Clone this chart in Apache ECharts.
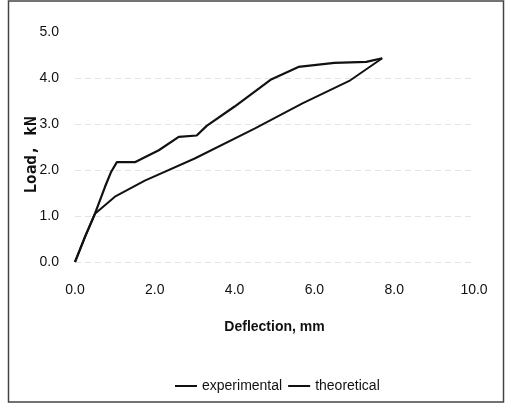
<!DOCTYPE html>
<html>
<head>
<meta charset="utf-8">
<script src="https://cdn.jsdelivr.net/npm/echarts@6/dist/echarts.min.js"></script>
<style>
  html, body { margin: 0; padding: 0; background: #fff; }
  #chart { width: 506px; height: 413px; }
</style>
</head>
<body>
<div id="chart"></div>
<script>
// Load–deflection measurements (deflection in mm, load in kN)
const experimentalDeflection = [0, 0.25, 0.5, 0.75, 0.9, 1.05, 1.5, 2.1, 2.6, 3.05, 3.3, 4.0, 4.9, 5.6, 6.5, 7.3, 7.7];
const experimentalLoad       = [0, 0.54, 1.05, 1.63, 1.95, 2.17, 2.17, 2.43, 2.72, 2.75, 2.96, 3.38, 3.96, 4.24, 4.33, 4.35, 4.43];

// Predicted response
const theoreticalDeflection = [0, 0.25, 0.5, 1.0, 1.75, 3.0, 4.5, 5.7, 6.9, 7.7];
const theoreticalLoad       = [0, 0.55, 1.05, 1.42, 1.77, 2.25, 2.9, 3.45, 3.95, 4.43];

const seriesNames = ['experimental', 'theoretical'];
const xAxisTitle = 'Deflection, mm';
const yAxisTitle = 'Load, kN';

const pairs = (xs, ys) => xs.map((x, i) => [x, ys[i]]);

const narrow = "'Liberation Sans Narrow', 'Liberation Sans', Arial, sans-serif";

const chart = echarts.init(document.getElementById('chart'), null, { renderer: 'canvas' });

chart.setOption({
  animation: false,
  backgroundColor: '#fff',
  grid: { left: 75, right: 32, top: 32, bottom: 151, containLabel: false },
  xAxis: {
    type: 'value',
    min: 0, max: 10, interval: 2,
    name: xAxisTitle,
    nameLocation: 'middle',
    nameGap: 58,
    nameMoveOverlap: false,
    nameTextStyle: { fontFamily: narrow, fontWeight: 'bold', fontSize: 14, color: '#111' },
    axisLine: { show: false },
    axisTick: { show: false },
    axisLabel: {
      margin: 21,
      fontFamily: narrow, fontSize: 14, color: '#111',
      formatter: v => v.toFixed(1)
    },
    splitLine: { show: false }
  },
  yAxis: {
    type: 'value',
    min: 0, max: 5, interval: 1,
    name: yAxisTitle,
    nameLocation: 'middle',
    nameGap: 35,
    nameMoveOverlap: false,
    nameTextStyle: {
      fontFamily: "'DejaVu Sans Mono', 'Liberation Mono', monospace",
      fontWeight: 'bold', fontSize: 16, color: '#111',
      padding: [0, 16, 0, 0]
    },
    axisLine: { show: false },
    axisTick: { show: false },
    axisLabel: {
      margin: 16,
      fontFamily: narrow, fontSize: 14, color: '#111',
      formatter: v => v.toFixed(1)
    },
    splitLine: {
      show: true,
      // faint dashed rules at 0–4, none along the top edge
      lineStyle: { color: ['#e4e4e4', '#e4e4e4', '#e4e4e4', '#e4e4e4', '#e4e4e4', '#ffffff'], type: [6, 4], width: 1 }
    }
  },
  legend: {
    data: seriesNames,
    top: 374,
    left: 170,
    icon: 'rect',
    itemWidth: 22,
    itemHeight: 2,
    itemGap: 6,
    textStyle: { fontFamily: narrow, fontSize: 14, color: '#111' }
  },
  series: [
    {
      name: seriesNames[0],
      type: 'line',
      data: pairs(experimentalDeflection, experimentalLoad),
      showSymbol: false,
      symbol: 'none',
      lineStyle: { color: '#111', width: 2.2 },
      itemStyle: { color: '#111' }
    },
    {
      name: seriesNames[1],
      type: 'line',
      data: pairs(theoreticalDeflection, theoreticalLoad),
      showSymbol: false,
      symbol: 'none',
      lineStyle: { color: '#111', width: 2 },
      itemStyle: { color: '#111' }
    }
  ],
  graphic: [
    {
      type: 'rect',
      shape: { x: 8.5, y: 1, width: 495, height: 401 },
      style: { fill: 'none', stroke: '#444', lineWidth: 1.5 },
      silent: true
    }
  ]
});
</script>
</body>
</html>
